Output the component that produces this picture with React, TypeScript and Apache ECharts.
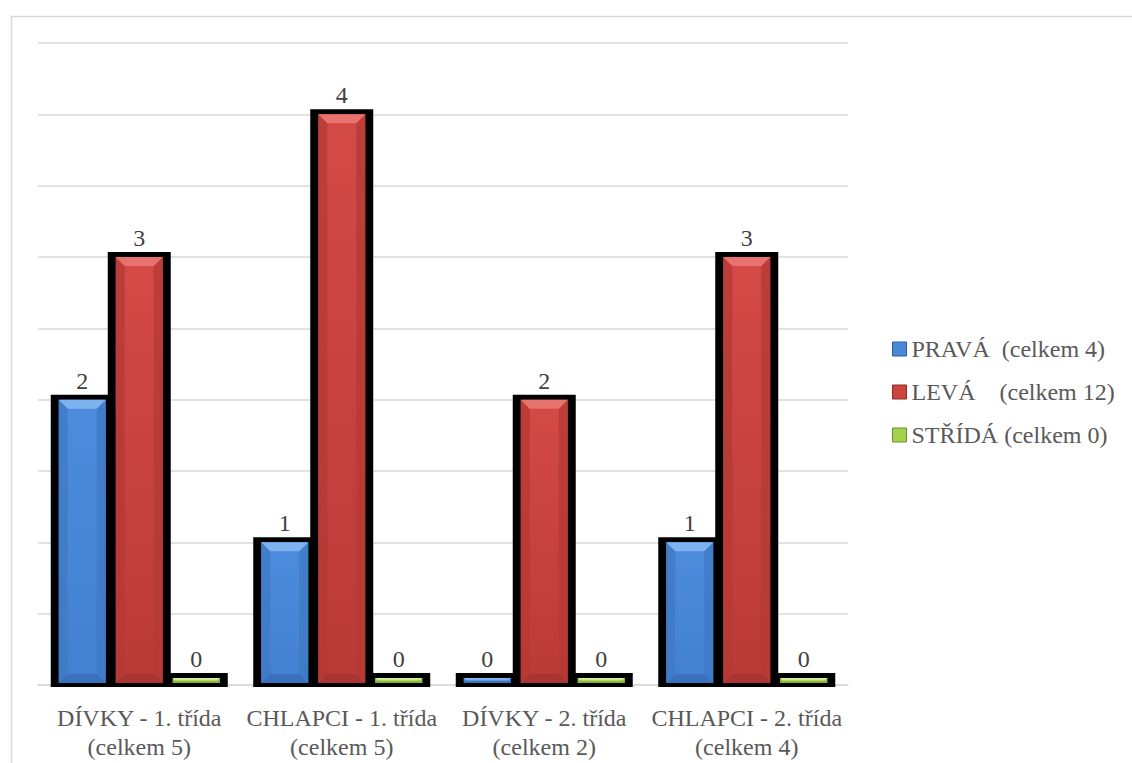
import React, { useEffect, useRef } from "react";
import * as echarts from "echarts";

const categories = [
  "DÍVKY - 1. třída\n(celkem 5)",
  "CHLAPCI - 1. třída\n(celkem 5)",
  "DÍVKY - 2. třída\n(celkem 2)",
  "CHLAPCI - 2. třída\n(celkem 4)",
];
const seriesNames = ["PRAVÁ  (celkem 4)", "LEVÁ    (celkem 12)", "STŘÍDÁ (celkem 0)"];
const pravaValues = [2, 1, 0, 1];
const levaValues = [3, 4, 2, 3];
const stridaValues = [0, 0, 0, 0];

const FONT = "'Times New Roman', 'Liberation Serif', serif";
const FS = 24;

const palettes = [
  { mid: "#4a88d8", light: "#7db3f0", side: "#3e7ac6", dark: "#3468b0", grad: ["#4d8cdc", "#4380d0"], legendBorder: "#2c5c9c" },
  { mid: "#cc4340", light: "#e8726e", side: "#b53936", dark: "#9e302d", grad: ["#d44a47", "#b93a37"], legendBorder: "#8c2a28" },
  { mid: "#a3d14f", light: "#cdee92", side: "#8dbb3a", dark: "#7aa532", grad: ["#aad857", "#98c444"], legendBorder: "#6a8f2a" },
];

function makeRender(s: number) {
  const p = palettes[s];
  return (params: any, api: any) => {
    const cat = api.value(0);
    const val = api.value(1);
    const base = api.coord([cat, 0]);
    const top = api.coord([cat, val]);
    const band = api.size([1, 0])[0];
    const pitch = band * 0.2815;
    const fillW = pitch - 10;
    const cx = base[0] + (s - 1) * pitch;
    const fx1 = cx - fillW / 2;
    const fx2 = cx + fillW / 2;
    const fTop = Math.min(top[1], base[1] - 7);
    const fBot = base[1] - 2;
    const h = fBot - fTop;
    const b = Math.min(9, h / 2);
    return {
      type: "group",
      children: [
        {
          type: "rect",
          shape: { x: fx1 - 8, y: fTop - 5, width: fillW + 16, height: base[1] + 2 - (fTop - 5) },
          style: { fill: "#000000" },
        },
        {
          type: "rect",
          shape: { x: fx1, y: fTop, width: fillW, height: h },
          style: {
            fill: new echarts.graphic.LinearGradient(0, 0, 0, 1, [
              { offset: 0, color: p.grad[0] },
              { offset: 1, color: p.grad[1] },
            ]),
          },
        },
        {
          type: "polygon",
          shape: { points: [[fx1, fTop], [fx1 + b, fTop + b], [fx1 + b, fBot - b], [fx1, fBot]] },
          style: { fill: p.side, opacity: 0.8 },
        },
        {
          type: "polygon",
          shape: { points: [[fx2, fTop], [fx2 - b, fTop + b], [fx2 - b, fBot - b], [fx2, fBot]] },
          style: { fill: p.side, opacity: 0.8 },
        },
        {
          type: "polygon",
          shape: { points: [[fx1, fBot], [fx2, fBot], [fx2 - b, fBot - b], [fx1 + b, fBot - b]] },
          style: { fill: p.dark, opacity: 0.6 },
        },
        {
          type: "polygon",
          shape: { points: [[fx1, fTop], [fx2, fTop], [fx2 - b, fTop + b], [fx1 + b, fTop + b]] },
          style: { fill: p.light },
        },
        {
          type: "text",
          x: cx,
          y: fTop - 7,
          style: {
            text: String(val),
            align: "center",
            verticalAlign: "bottom",
            fontSize: FS,
            fontFamily: FONT,
            fill: "#404040",
          },
        },
      ],
    };
  };
}

const allValues = [pravaValues, levaValues, stridaValues];

export default function App() {
  const ref = useRef<HTMLDivElement>(null);
  useEffect(() => {
    if (!ref.current) return;
    const chart = echarts.init(ref.current, null, { renderer: "svg" });
    chart.setOption({
      animation: false,
      backgroundColor: "#ffffff",
      grid: { left: 38, right: 284, top: 43, bottom: 78 },
      graphic: [
        {
          type: "rect",
          left: 9,
          top: 14,
          shape: { x: 0, y: 0, width: 1300, height: 900 },
          style: { fill: "none", stroke: "#d9d9d9", lineWidth: 1.5 },
          silent: true,
          z: -10,
        },
      ],
      legend: {
        orient: "vertical",
        left: 887,
        top: 332,
        itemWidth: 14,
        itemHeight: 14,
        itemGap: 19,
        icon: "rect",
        textStyle: { fontFamily: FONT, fontSize: FS, color: "#595959", lineHeight: 24 },
        data: seriesNames.map((n, i) => ({
          name: n,
          itemStyle: { color: palettes[i].mid, borderColor: palettes[i].legendBorder, borderWidth: 1 },
        })),
      },
      xAxis: {
        type: "category",
        data: categories,
        axisLine: { lineStyle: { color: "#d9d9d9", width: 1.5 } },
        axisTick: { show: false },
        axisLabel: {
          interval: 0,
          fontFamily: FONT,
          fontSize: FS,
          color: "#595959",
          lineHeight: 29,
          margin: 18,
        },
      },
      yAxis: {
        type: "value",
        min: 0,
        max: 4.5,
        interval: 0.5,
        axisLabel: { show: false },
        axisLine: { show: false },
        axisTick: { show: false },
        splitLine: { lineStyle: { color: "#d9d9d9", width: 1.5 } },
      },
      series: seriesNames.map((n, s) => ({
        name: n,
        type: "custom",
        renderItem: makeRender(s),
        itemStyle: { color: palettes[s].mid },
        encode: { x: 0, y: 1 },
        clip: false,
        data: allValues[s].map((v, i) => [i, v]),
      })),
    });
    return () => chart.dispose();
  }, []);
  return (
    <div
      ref={ref}
      style={{ position: "fixed", left: 0, top: 0, width: 1132, height: 763, background: "#fff" }}
    />
  );
}
